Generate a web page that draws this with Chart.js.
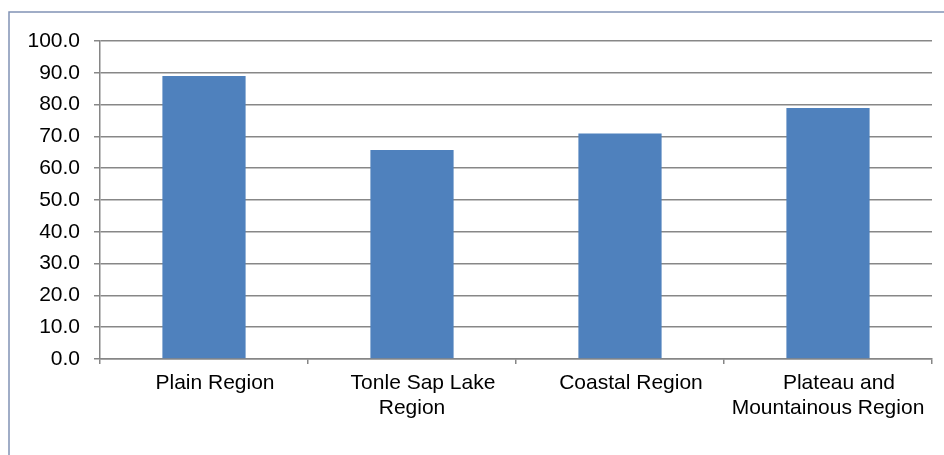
<!DOCTYPE html>
<html>
<head>
<meta charset="utf-8">
<script src="https://cdn.jsdelivr.net/npm/chart.js@4"></script>
<style>
  html, body { margin: 0; padding: 0; background: #fff; }
  #wrap { position: absolute; left: 0; top: 0; width: 944px; height: 455px; }
</style>
</head>
<body>
<div id="wrap"><canvas id="c" width="944" height="455"></canvas></div>
<script>
// Category labels, split into the two printed lines
const categoryLine1 = ["Plain Region", "Tonle Sap Lake", "Coastal Region", "Plateau and"];
const categoryLine2 = ["", "Region", "", "Mountainous Region"];
const values = [89.0, 65.7, 70.9, 78.9];
const yMin = 0;
const yMax = 100;
const yStep = 10;

const FONT = "'Liberation Sans', Arial, sans-serif";

const frame = {
  id: 'frame',
  beforeDraw(chart) {
    const ctx = chart.ctx;
    ctx.save();
    ctx.strokeStyle = '#8193b5';
    ctx.lineWidth = 1.5;
    ctx.beginPath();
    ctx.moveTo(9, 460);
    ctx.lineTo(9, 12);
    ctx.lineTo(950, 12);
    ctx.stroke();
    ctx.restore();
  }
};

new Chart(document.getElementById('c'), {
  type: 'bar',
  data: {
    labels: categoryLine1,
    datasets: [{
      data: values,
      backgroundColor: '#4f81bd',
      borderWidth: 0,
      barPercentage: 0.4,
      categoryPercentage: 1.0
    }]
  },
  options: {
    responsive: false,
    animation: false,
    devicePixelRatio: 1,
    layout: { padding: { left: 0, right: 12, top: 41, bottom: 0 } },
    plugins: { legend: { display: false }, tooltip: { enabled: false } },
    font: { family: FONT },
    scales: {
      x: {
        position: 'bottom',
        weight: 0,
        offset: true,
        afterFit(scale) { scale.height = 37; },
        border: { display: true, color: '#868686', width: 1.5 },
        grid: {
          offset: true,
          drawOnChartArea: false,
          drawTicks: true,
          tickLength: 5,
          color: '#868686',
          lineWidth: 1.5
        },
        ticks: {
          color: '#000',
          padding: 7,
          labelOffset: 11,
          maxRotation: 0,
          autoSkip: false,
          font: { family: FONT, size: 21, lineHeight: 1.2 }
        }
      },
      x2: {
        type: 'category',
        axis: 'x',
        position: 'bottom',
        weight: 1,
        offset: true,
        labels: categoryLine2,
        afterFit(scale) { scale.height = 59; },
        border: { display: false },
        grid: { display: false, drawTicks: false, drawOnChartArea: false },
        ticks: {
          color: '#000',
          padding: 0,
          maxRotation: 0,
          autoSkip: false,
          font: { family: FONT, size: 21, lineHeight: 1.2 }
        }
      },
      y: {
        min: yMin,
        max: yMax,
        afterFit(scale) { scale.width = 100; },
        border: { display: true, color: '#868686', width: 1.5 },
        grid: {
          color: '#878787',
          lineWidth: 1.5,
          tickLength: 6
        },
        ticks: {
          stepSize: yStep,
          color: '#000',
          padding: 14,
          font: { family: FONT, size: 21 },
          callback: (v) => Number(v).toFixed(1)
        }
      }
    }
  },
  plugins: [frame]
});
</script>
</body>
</html>
